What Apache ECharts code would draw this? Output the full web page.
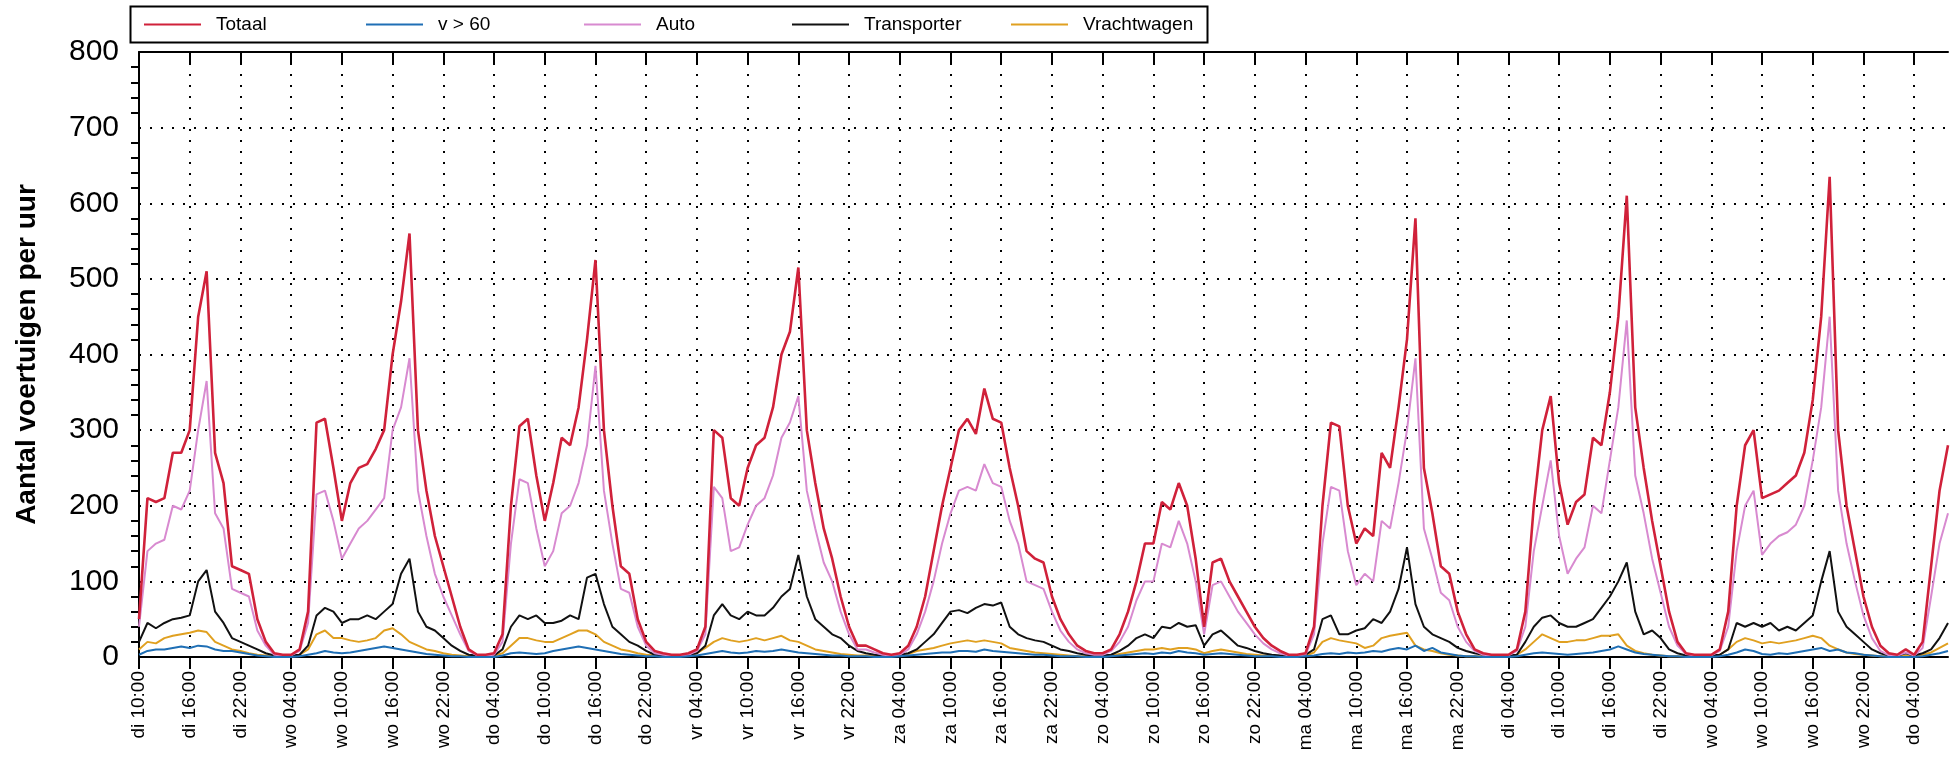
<!DOCTYPE html>
<html>
<head>
<meta charset="utf-8">
<script src="https://cdn.jsdelivr.net/npm/echarts@6/dist/echarts.min.js"></script>
<style>html,body{margin:0;padding:0;background:#fff}#chart{width:1952px;height:768px}</style>
</head>
<body>
<div id="chart"></div>
<script>
// dagen in de meetperiode, eerste dag start om 10:00, laatste eindigt om 08:00
var days = ['di', 'wo', 'do', 'vr', 'za', 'zo', 'ma', 'di', 'wo', 'do']
var startHour = 10
var endHour = 8

var totaal = [
  50,210,205,210,270,270,300,450,510,270,230,120,115,110,
  50,20,5,3,3,10,60,310,315,250,180,230,250,255,275,300,400,470,560,300,220,160,120,80,
  40,10,3,3,5,30,200,305,315,240,180,230,290,280,330,420,525,300,200,120,110,50,20,8,
  5,3,3,5,10,40,300,290,210,200,250,280,290,330,400,430,515,300,230,170,130,80,40,15,
  15,10,5,3,5,15,40,80,140,200,250,300,315,295,355,315,310,250,200,140,130,125,80,50,
  30,15,8,5,5,10,30,60,100,150,150,205,195,230,200,130,40,125,130,100,80,60,40,25,
  15,8,3,3,5,40,200,310,305,200,150,170,160,270,250,330,420,580,250,190,120,110,60,30,
  10,5,3,3,3,10,60,200,300,345,230,175,205,215,290,280,350,450,610,330,250,180,120,60,
  20,5,3,3,3,10,60,200,280,300,210,215,220,230,240,270,340,450,635,300,200,140,80,40,
  15,5,3,10,3,20,120,220,280
]
var v60 = [
  3,8,10,10,12,14,12,15,14,10,8,8,6,4,
  2,1,0,0,0,1,3,5,8,6,5,6,8,10,12,14,12,10,8,6,4,3,2,1,
  1,0,0,0,0,2,5,6,5,4,5,8,10,12,14,12,10,8,6,4,3,2,1,1,
  0,0,0,1,2,4,6,8,6,5,6,8,7,8,10,8,6,5,4,3,2,2,1,1,
  1,0,0,0,1,2,3,4,5,6,6,8,8,7,10,8,7,6,5,4,3,3,2,1,
  1,1,0,0,0,1,2,3,4,5,4,6,5,8,6,5,3,4,5,4,3,2,1,1,
  1,0,0,0,1,2,4,5,4,6,5,6,8,7,10,12,10,15,8,12,6,4,2,1,
  1,0,0,0,0,1,3,5,6,5,4,3,4,5,6,8,10,14,10,6,4,3,2,1,
  1,0,0,0,0,1,3,6,10,8,4,3,5,4,6,8,10,12,8,10,6,5,3,2,
  1,0,0,0,0,1,3,5,8
]
var auto = [
  40,140,150,155,200,195,220,300,365,190,170,90,85,80,
  35,15,3,2,2,8,45,215,220,180,130,150,170,180,195,210,300,330,395,220,160,110,80,55,
  30,8,2,2,3,20,150,235,230,170,120,140,190,200,230,280,385,220,150,90,85,40,15,5,
  3,2,2,3,8,30,225,210,140,145,175,200,210,240,290,310,345,220,170,125,100,60,30,10,
  10,6,3,2,3,10,30,60,100,150,190,220,225,220,255,230,225,180,150,100,95,90,60,35,
  20,10,5,3,3,8,20,40,75,100,100,150,145,180,150,100,30,95,100,80,60,45,30,18,
  10,5,2,2,3,30,150,225,220,140,95,110,100,180,170,230,300,395,170,130,85,75,40,20,
  8,3,2,2,2,8,40,140,200,260,160,110,130,145,200,190,260,330,445,240,190,130,85,40,
  15,4,2,2,2,8,40,140,200,220,135,150,160,165,175,200,260,330,450,220,150,100,55,25,
  8,2,2,6,2,12,80,150,190
]
var transporter = [
  20,45,38,45,50,52,55,100,115,60,45,25,20,15,
  10,5,2,2,2,3,15,55,65,60,45,50,50,55,50,60,70,110,130,60,40,35,25,15,
  8,3,2,2,2,10,40,55,50,55,45,45,48,55,50,105,110,70,40,30,20,15,8,3,
  2,2,2,3,5,15,55,70,55,50,60,55,55,65,80,90,135,80,50,40,30,25,15,8,
  5,3,2,2,3,5,10,20,30,45,60,62,58,65,70,68,72,40,30,25,22,20,15,10,
  8,5,3,2,2,3,8,15,25,30,25,40,38,45,40,42,15,30,35,25,15,12,8,5,
  3,2,2,2,3,10,50,55,30,30,35,38,50,45,60,90,145,70,40,30,25,20,12,8,
  5,3,2,2,2,3,20,40,52,55,45,40,40,45,50,65,80,100,125,60,30,35,25,10,
  5,2,2,2,2,3,10,45,40,45,40,45,35,40,35,45,55,100,140,60,40,30,20,10,
  5,2,2,5,2,5,10,25,45
]
var vrachtwagen = [
  10,20,18,25,28,30,32,35,33,20,15,10,8,5,
  3,2,1,1,1,3,10,30,35,25,25,22,20,22,25,35,38,30,20,15,10,8,5,3,
  2,1,1,1,2,5,15,25,25,22,20,20,25,30,35,35,30,20,15,10,8,5,3,2,
  1,1,1,2,5,12,20,25,22,20,22,25,22,25,28,22,20,15,10,8,6,4,3,2,
  2,1,1,1,2,4,8,10,12,15,18,20,22,20,22,20,18,12,10,8,6,5,4,3,
  2,1,1,1,1,2,4,6,8,10,10,12,10,12,12,10,5,8,10,8,6,4,3,2,
  2,1,1,1,2,6,20,25,22,20,18,12,15,25,28,30,32,15,10,8,5,3,2,1,
  1,1,1,1,1,3,10,20,30,25,20,20,22,22,25,28,28,30,15,8,5,3,2,1,
  1,1,1,1,1,3,10,20,25,22,18,20,18,20,22,25,28,25,15,10,6,4,3,2,
  1,1,1,2,1,3,6,12,18
]

var categories = []
days.forEach(function (d, i) {
  var h0 = i === 0 ? startHour : 0
  var h1 = i === days.length - 1 ? endHour : 23
  for (var h = h0; h <= h1; h++) {
    categories.push(d + ' ' + (h < 10 ? '0' : '') + h + ':00')
  }
})

var names = ['Totaal', 'v > 60', 'Auto', 'Transporter', 'Vrachtwagen']
var colors = ['#d0213a', '#1f6fb5', '#d88ad0', '#111111', '#e0a020']
var values = [totaal, v60, auto, transporter, vrachtwagen]
var legendLeft = [139, 361, 579, 787, 1006]

var chart = echarts.init(document.getElementById('chart'))
var opt = {
  animation: false,
  color: colors,
  graphic: [{
    type: 'rect', left: 128, top: 4,
    shape: {width: 1077, height: 36},
    style: {fill: 'none', stroke: '#000', lineWidth: 2}
  }],
  legend: names.map(function (n, i) {
    return {
      data: [n], left: legendLeft[i], top: 10,
      itemWidth: 57, itemHeight: 2, itemGap: 15,
      icon: 'rect',
      textStyle: {fontFamily: 'Liberation Sans', fontSize: 19, color: '#000', padding: [0, 0, 0, 10]}
    }
  }),
  grid: {left: 139, right: 4, top: 52, bottom: 111},
  xAxis: [{
    type: 'category', data: categories, boundaryGap: false,
    axisLine: {lineStyle: {color: '#000', width: 2}},
    axisTick: {interval: 5, length: 12, lineStyle: {color: '#000', width: 2}},
    axisLabel: {interval: 5, rotate: 90, fontFamily: 'Liberation Sans', fontSize: 19, color: '#000', margin: 14},
    splitLine: {show: true, interval: 5, lineStyle: {color: '#000', type: [2, 9], width: 2}}
  }, {
    type: 'category', data: categories, boundaryGap: false, position: 'top',
    axisLine: {lineStyle: {color: '#000', width: 2}},
    axisTick: {interval: 5, inside: true, length: 12, lineStyle: {color: '#000', width: 2}},
    axisLabel: {show: false}
  }],
  yAxis: {
    type: 'value', min: 0, max: 800, interval: 100,
    name: 'Aantal voertuigen per uur', nameLocation: 'middle', nameGap: 98,
    nameTextStyle: {fontFamily: 'Liberation Sans', fontWeight: 'bold', fontSize: 28, color: '#000'},
    axisLine: {show: true, lineStyle: {color: '#000', width: 2}},
    axisTick: {length: 14, lineStyle: {color: '#000', width: 2}},
    minorTick: {show: true, splitNumber: 5, length: 8, lineStyle: {color: '#000', width: 2}},
    axisLabel: {fontFamily: 'Liberation Sans', fontSize: 30, color: '#000', margin: 20},
    splitLine: {lineStyle: {color: '#000', type: [2, 9], width: 2}}
  },
  series: names.map(function (n, i) {
    return {
      name: n, type: 'line', data: values[i], showSymbol: false,
      z: 10 - i,
      lineStyle: {width: i === 0 ? 2.6 : 2, color: colors[i]}
    }
  })
}
chart.setOption(opt)
</script>
</body>
</html>
